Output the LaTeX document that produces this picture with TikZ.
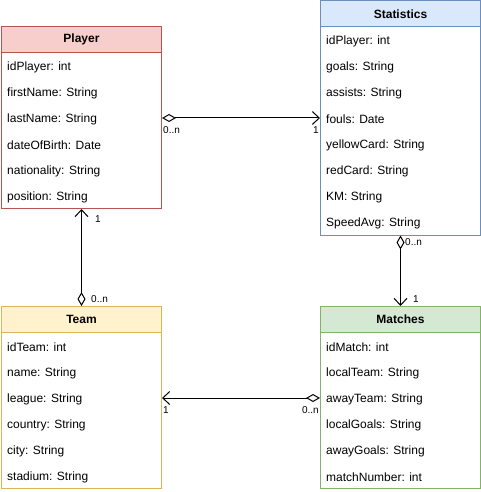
\documentclass[tikz,border=0pt]{standalone}
\usepackage{fontspec}
\setmainfont{Liberation Sans}
\usetikzlibrary{arrows.meta}
\definecolor{redfill}{HTML}{F8CECC}\definecolor{redline}{HTML}{B85450}
\definecolor{bluefill}{HTML}{DAE8FC}\definecolor{blueline}{HTML}{6C8EBF}
\definecolor{yelfill}{HTML}{FFF2CC}\definecolor{yelline}{HTML}{D6B656}
\definecolor{grnfill}{HTML}{D5E8D4}\definecolor{grnline}{HTML}{82B366}
\tikzset{
  hdr/.style={draw, line width=1pt, minimum width=160pt, minimum height=26pt, inner sep=0pt, anchor=north west, font=\bfseries\fontsize{12}{14}\selectfont},
  bodybox/.style={draw, line width=1pt, fill=white, minimum width=160pt, inner sep=0pt, anchor=north west},
  row/.style={anchor=west, inner sep=0pt, font=\fontsize{12}{14}\selectfont},
  mult/.style={inner sep=0pt, font=\fontsize{10}{12}\selectfont},
  agg/.style={line width=1pt, {Diamond[open,length=14pt,width=8pt]}-{Straight Barb[length=7pt,width=13pt]}}
}
\begin{document}
\begin{tikzpicture}[x=1pt,y=-1pt]
\useasboundingbox[fill=white] (0,0) rectangle (481,492);
% Player
\node[hdr, fill=redfill, draw=redline] (pH) at (1,26) {Player};
\node[bodybox, draw=redline, minimum height=156pt] (pB) at (1,52) {};
\node[row] (p1) at (7,67) {idPlayer: int};
\node[row] (p2) at (7,93) {firstName: String};
\node[row] (p3) at (7,119) {lastName: String};
\node[row] (p4) at (7,145) {dateOfBirth: Date};
\node[row] (p5) at (7,171) {nationality: String};
\node[row] (p6) at (7,197) {position: String};
% Statistics
\node[hdr, fill=bluefill, draw=blueline] (sH) at (320,0.5) {Statistics};
\node[bodybox, draw=blueline, minimum height=208pt] (sB) at (320,26.5) {};
\node[row] (s1) at (326,41) {idPlayer: int};
\node[row] (s2) at (326,67) {goals: String};
\node[row] (s3) at (326,93) {assists: String};
\node[row] (s4) at (326,119) {fouls: Date};
\node[row] (s5) at (326,145) {yellowCard: String};
\node[row] (s6) at (326,171) {redCard: String};
\node[row] (s7) at (326,197) {KM: String};
\node[row] (s8) at (326,223) {SpeedAvg: String};
% Team
\node[hdr, fill=yelfill, draw=yelline] (tH) at (1,306) {Team};
\node[bodybox, draw=yelline, minimum height=156pt] (tB) at (1,332) {};
\node[row] (t1) at (7,347) {idTeam: int};
\node[row] (t2) at (7,373) {name: String};
\node[row] (t3) at (7,399) {league: String};
\node[row] (t4) at (7,425) {country: String};
\node[row] (t5) at (7,451) {city: String};
\node[row] (t6) at (7,477) {stadium: String};
% Matches
\node[hdr, fill=grnfill, draw=grnline] (mH) at (320,306) {Matches};
\node[bodybox, draw=grnline, minimum height=156pt] (mB) at (320,332) {};
\node[row] (m1) at (326,347) {idMatch: int};
\node[row] (m2) at (326,373) {localTeam: String};
\node[row] (m3) at (326,399) {awayTeam: String};
\node[row] (m4) at (326,425) {localGoals: String};
\node[row] (m5) at (326,451) {awayGoals: String};
\node[row] (m6) at (326,477) {matchNumber: int};
% connectors
\coordinate (c1) at (0,118);
\coordinate (c2) at (0,398);
\draw[agg] (pB.east |- c1) -- (sB.west |- c1);
\draw[agg] (tH.north) -- (pB.south);
\draw[agg] (sB.south) -- (mH.north);
\draw[agg] (mB.west |- c2) -- (tB.east |- c2);
% multiplicities
\node[mult, anchor=west] (l1) at (163,130) {0..n};
\node[mult, anchor=east] (l2) at (319,130) {1};
\node[mult, anchor=west] (l3) at (95,219) {1};
\node[mult, anchor=west] (l4) at (91,299) {0..n};
\node[mult, anchor=west] (l5) at (405,242) {0..n};
\node[mult, anchor=west] (l6) at (413,299) {1};
\node[mult, anchor=west] (l7) at (163,410) {1};
\node[mult, anchor=east] (l8) at (319,410) {0..n};
\end{tikzpicture}
\end{document}
